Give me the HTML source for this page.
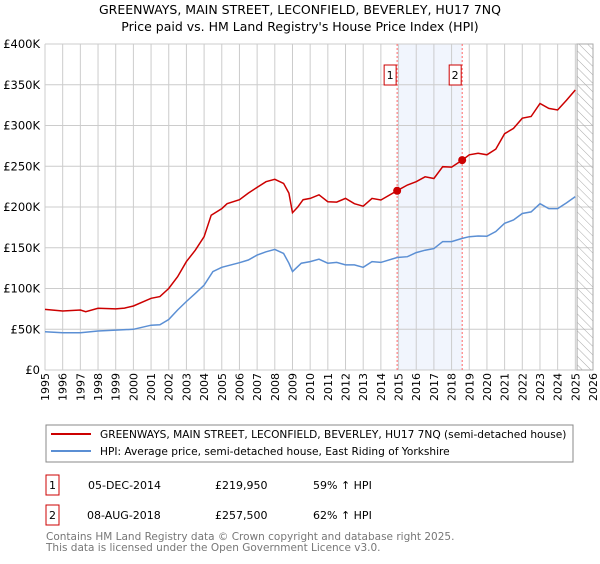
<!DOCTYPE html>
<html><head><meta charset="utf-8"><style>
body{margin:0;background:#fff;font-family:"DejaVu Sans","Liberation Sans",sans-serif;}
svg text{font-family:"DejaVu Sans","Liberation Sans",sans-serif;}
</style></head><body>
<svg id="chart" width="600" height="560" xmlns="http://www.w3.org/2000/svg">
<text x="300" y="14" text-anchor="middle" font-size="12.5">GREENWAYS, MAIN STREET, LECONFIELD, BEVERLEY, HU17 7NQ</text>
<text x="300" y="31" text-anchor="middle" font-size="12.5">Price paid vs. HM Land Registry's House Price Index (HPI)</text>
<g id="plot"></g>
<g>
<rect x="46" y="425" width="527" height="37" fill="#fff" stroke="#888"/>
<line x1="51" y1="434" x2="91" y2="434" stroke="#cc0000" stroke-width="2"/>
<text x="100" y="438" font-size="10.6">GREENWAYS, MAIN STREET, LECONFIELD, BEVERLEY, HU17 7NQ (semi-detached house)</text>
<line x1="51" y1="451" x2="91" y2="451" stroke="#5b8fd4" stroke-width="2"/>
<text x="100" y="455" font-size="10.6">HPI: Average price, semi-detached house, East Riding of Yorkshire</text>
</g>
<g font-size="11">
<rect x="46" y="475" width="13" height="20" fill="#fff" stroke="#cc0000"/>
<text x="52.5" y="489" text-anchor="middle">1</text>
<text x="88" y="489">05-DEC-2014</text>
<text x="215" y="489">£219,950</text>
<text x="313" y="489">59% ↑ HPI</text>
<rect x="46" y="505" width="13" height="20" fill="#fff" stroke="#cc0000"/>
<text x="52.5" y="519" text-anchor="middle">2</text>
<text x="87" y="519">08-AUG-2018</text>
<text x="215" y="519">£257,500</text>
<text x="313" y="519">62% ↑ HPI</text>
</g>
<text x="46" y="540" font-size="10.5" fill="#777">Contains HM Land Registry data © Crown copyright and database right 2025.</text>
<text x="46" y="551" font-size="10.5" fill="#777">This data is licensed under the Open Government Licence v3.0.</text>
</svg>
<script>
const yTicks=[0,50000,100000,150000,200000,250000,300000,350000,400000];
const yTickLabels=["£0","£50K","£100K","£150K","£200K","£250K","£300K","£350K","£400K"];
const xYears=[1995,1996,1997,1998,1999,2000,2001,2002,2003,2004,2005,2006,2007,2008,2009,2010,2011,2012,2013,2014,2015,2016,2017,2018,2019,2020,2021,2022,2023,2024,2025,2026];
const redX=[1995,1996,1997,1997.3,1998,1999,1999.5,2000,2001,2001.5,2002,2002.5,2003,2003.5,2004,2004.4,2005,2005.3,2006,2006.5,2007,2007.5,2008,2008.5,2008.8,2009,2009.3,2009.6,2010,2010.5,2011,2011.5,2012,2012.5,2013,2013.5,2014,2014.92,2015.5,2016,2016.5,2017,2017.5,2018,2018.6,2019,2019.5,2020,2020.5,2021,2021.5,2022,2022.5,2023,2023.5,2024,2024.5,2025];
const redY=[74400,72400,73600,71500,75700,75000,76000,78500,88000,90000,100000,114500,133000,147000,163600,190000,198000,204000,209000,217000,224000,231000,234000,229000,217000,193000,200000,209000,210600,215000,206500,206000,210600,204000,201000,210600,208600,219950,227000,231000,237000,235000,249500,249000,257500,264000,266000,264000,271000,290000,296500,309000,311000,327000,321000,319000,331000,343600];
const blueX=[1995,1996,1997,1998,1999,2000,2001,2001.5,2002,2002.5,2003,2003.5,2004,2004.5,2005,2006,2006.5,2007,2007.5,2008,2008.5,2008.8,2009,2009.5,2010,2010.5,2011,2011.5,2012,2012.5,2013,2013.5,2014,2014.92,2015.5,2016,2016.5,2017,2017.5,2018,2018.6,2019,2019.5,2020,2020.5,2021,2021.5,2022,2022.5,2023,2023.5,2024,2024.5,2025];
const blueY=[47000,45800,45800,47900,49000,50000,55000,55500,62000,73600,84000,94000,104000,120700,126000,131700,135000,141000,145000,148000,143000,131000,120700,131000,133000,136000,131000,132000,129000,129000,126000,133000,132000,138000,139000,144000,147000,149000,157500,157500,161500,163600,164400,164000,170000,180000,184000,192000,194000,204000,198000,198000,205000,212700];
const saleX=[2014.92,2018.6];
const saleY=[219950,257500];
const saleLabels=["1","2"];
const X0=45,X1=593,Y0=370,Y1=44;
const xs=v=>X0+(v-1995)/(2026-1995)*(X1-X0);
const ys=v=>Y0-v/400000*(Y0-Y1);
const NS="http://www.w3.org/2000/svg";
const plot=document.getElementById('plot');
function mk(t,a){const e=document.createElementNS(NS,t);for(const k in a)e.setAttribute(k,a[k]);plot.appendChild(e);return e;}
let e;
e=mk('rect',{x:xs(saleX[0]),y:Y1,width:xs(saleX[1])-xs(saleX[0]),height:Y0-Y1,fill:'#eef3fc',opacity:0.8});


xYears.forEach(y=>{const g=mk('line',{x1:xs(y),x2:xs(y),y1:Y1,y2:Y0,stroke:'#cccccc','stroke-width':1});


const t=mk('text',{x:0,y:0,'font-size':11,'text-anchor':'end',transform:`translate(${xs(y)+4},${Y0+3}) rotate(-90)`});t.textContent=y;

});
yTicks.forEach((v,i)=>{const g=mk('line',{x1:X0,x2:X1,y1:ys(v),y2:ys(v),stroke:'#cccccc','stroke-width':1});


const t=mk('text',{x:X0-5,y:ys(v)+4,'font-size':11.5,'text-anchor':'end'});t.textContent=yTickLabels[i];

});
const defs=mk('defs',{});defs.innerHTML='<pattern id="h" width="6" height="6" patternUnits="userSpaceOnUse" patternTransform="rotate(-45)"><line x1="0" y1="0" x2="0" y2="6" stroke="#aaa" stroke-width="1"/></pattern>';
e=mk('rect',{x:xs(2025.1),y:Y1,width:X1-xs(2025.1),height:Y0-Y1,fill:'url(#h)',stroke:'#aaa'});


saleX.forEach((sx,i)=>{const l=mk('line',{x1:xs(sx),x2:xs(sx),y1:Y1,y2:Y0,stroke:'#ff6666','stroke-dasharray':'2,2'});


const r=mk('rect',{x:xs(sx)-13,y:65,width:12,height:20,fill:'#fff',stroke:'#cc0000'});


const t=mk('text',{x:xs(sx)-7,y:79,'font-size':11,'text-anchor':'middle'});t.textContent=saleLabels[i];

});
const path=(X,Y)=>X.map((x,i)=>(i?'L':'M')+xs(x).toFixed(1)+','+ys(Y[i]).toFixed(1)).join('');
e=mk('path',{d:path(blueX,blueY),fill:'none',stroke:'#5b8fd4','stroke-width':1.5});


e=mk('path',{d:path(redX,redY),fill:'none',stroke:'#cc0000','stroke-width':1.5});


saleX.forEach((sx,i)=>{const c=mk('circle',{cx:xs(sx),cy:ys(saleY[i]),r:4,fill:'#cc0000'});

});
</script>
</body></html>
